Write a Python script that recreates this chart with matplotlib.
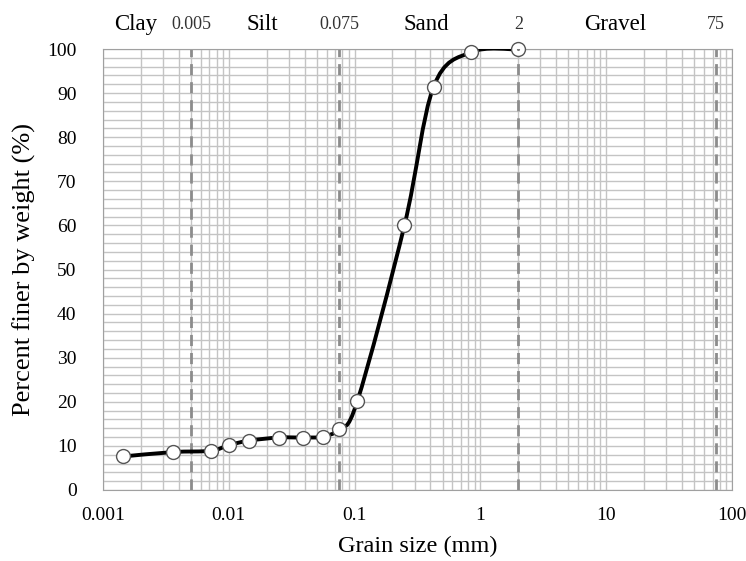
import numpy as np
import matplotlib
matplotlib.use("Agg")
import matplotlib.pyplot as plt
from matplotlib.path import Path
from matplotlib.patches import PathPatch

# grain size distribution
grain_mm = [0.00144, 0.0036, 0.0072, 0.0101, 0.0145, 0.025, 0.039, 0.0557,
            0.075, 0.105, 0.249, 0.424, 0.847, 2.0]
pct_finer = [7.6, 8.6, 8.9, 10.2, 11.2, 11.9, 11.9, 12.1,
             13.8, 20.1, 60.0, 91.4, 99.3, 99.9]

# soil class boundaries (mm) and class names
bound_mm = [0.005, 0.075, 2, 75]
bound_lbl = ["0.005", "0.075", "2", "75"]
class_names = ["Clay", "Silt", "Sand", "Gravel"]
class_pos = [0.00183, 0.0185, 0.373, 11.7]

plt.rcParams['font.family'] = ['Liberation Serif', 'DejaVu Serif']

fig = plt.figure(figsize=(7.46, 5.61), dpi=100)
ax = fig.add_axes([103 / 746, 1 - 490 / 561, 629 / 746, 441 / 561])
ax.set_xscale('log')
ax.set_xlim(0.001, 100)
ax.set_ylim(0, 100)

grid_c = '#c4c4c4'
ax.set_yticks(np.arange(0, 101, 10))
ax.set_yticks(np.arange(0, 101, 2), minor=True)
ax.grid(True, which='both', color=grid_c, lw=1.0)
ax.tick_params(which='both', length=0, labelsize=14)
ax.tick_params(axis='y', pad=19)
ax.tick_params(axis='x', pad=12)
ax.set_xticks([0.001, 0.01, 0.1, 1, 10, 100])
ax.set_xticklabels(["0.001", "0.01", "0.1", "1", "10", "100"])
for s in ax.spines.values():
    s.set_color('#a0a0a0')

# class boundaries
for b in bound_mm:
    ax.axvline(b, color='#8c8c8c', lw=2, ls=(0, (4, 2.5)), zorder=2)

# smooth curve (excel-like bezier through the points, in log-x space)
lx = np.log10(grain_mm)
yy = np.array(pct_finer)
pts = np.column_stack([lx, yy])
verts = [pts[0]]
codes = [Path.MOVETO]
n = len(pts)
for i in range(n - 1):
    p0 = pts[i - 1] if i > 0 else pts[i]
    p1 = pts[i]
    p2 = pts[i + 1]
    p3 = pts[i + 2] if i + 2 < n else pts[i + 1]
    c1 = p1 + (p2 - p0) / 6
    c2 = p2 - (p3 - p1) / 6
    verts += [c1, c2, p2]
    codes += [Path.CURVE4] * 3
verts = np.array(verts)
verts[:, 0] = 10 ** verts[:, 0]
ax.add_patch(PathPatch(Path(verts, codes), fill=False, ec='black', lw=2.8,
                       zorder=3, capstyle='round'))

ax.plot(grain_mm, pct_finer, 'o', ms=10, mfc='white', mec='#555555',
        mew=1.0, zorder=4, clip_on=False)
ax.plot(grain_mm[-1:], pct_finer[-1:], '.', ms=2.5, color='#777777', zorder=5)

# labels on top
for x, t in zip(bound_mm, bound_lbl):
    ax.text(x, 1.055, t, transform=ax.get_xaxis_transform(), ha='center',
            va='center', fontsize=13, color='#333333')
for x, t in zip(class_pos, class_names):
    ax.text(x, 1.055, t, transform=ax.get_xaxis_transform(), ha='center',
            va='center', fontsize=16.5, color='black')

ax.set_xlabel("Grain size (mm)", fontsize=17.5, labelpad=9)
ax.set_ylabel("Percent finer by weight (%)", fontsize=19, labelpad=8)

fig.savefig("out.png", dpi=100)
